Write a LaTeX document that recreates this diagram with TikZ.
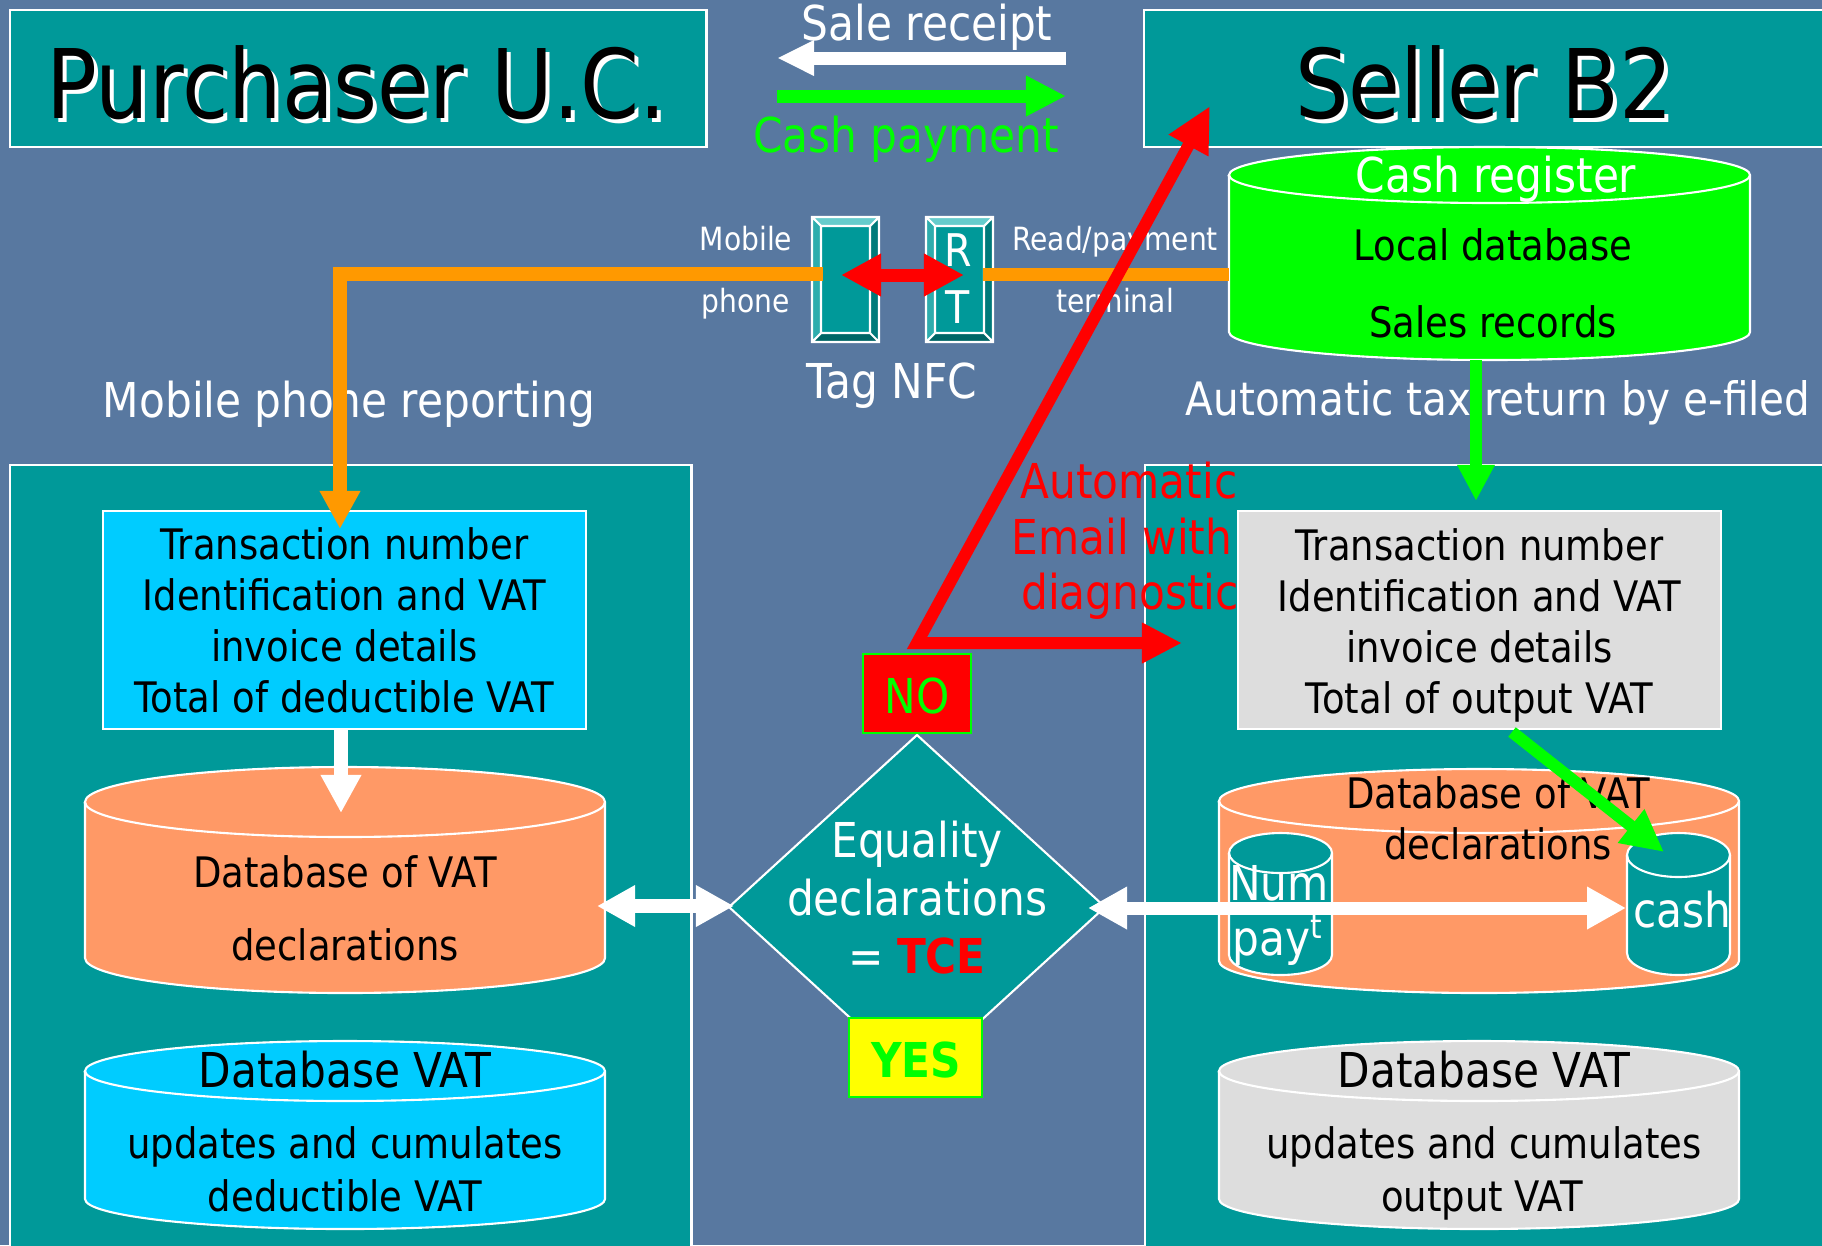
\documentclass[tikz,border=0pt]{standalone}
\usepackage{fontspec}
\setmainfont{DejaVu Sans}[FakeStretch=0.88]
\usetikzlibrary{arrows.meta,calc}
\definecolor{bgc}{RGB}{88,120,160}
\definecolor{tealc}{HTML}{009999}
\definecolor{cyanc}{HTML}{00CCFF}
\definecolor{peach}{HTML}{FF9966}
\definecolor{greyc}{HTML}{DDDDDD}
\definecolor{greenc}{HTML}{00FF00}
\definecolor{orangec}{HTML}{FF9900}
\definecolor{redc}{HTML}{FF0000}
\definecolor{yellowc}{HTML}{FFFF00}
\definecolor{taglight}{HTML}{66CCCC}
\definecolor{tagdark}{HTML}{006666}
\definecolor{tagl}{HTML}{2EADAD}
\definecolor{tagr}{HTML}{007A7A}
\newcommand\FzTitle{\fontsize{27.3}{32}\selectfont}
\newcommand\FzL{\fontsize{13.66}{16.4}\selectfont}
\newcommand\FzM{\fontsize{11.95}{14.5}\selectfont}
\newcommand\FzS{\fontsize{9.1}{11}\selectfont}
\newcommand\FzR{\fontsize{12.8}{15}\selectfont}
\newcommand\FzA{\fontsize{13.1}{16}\selectfont}
% cylinder: x1 ytop x2 ybot ry fill name
\newcommand\cyl[7]{%
  \pgfmathsetmacro\cylrx{(#3-#1)/2*0.01}%
  \pgfmathsetmacro\cylry{#5*0.01}%
  \pgfmathsetmacro\cylw{(#3-#1)*0.01}%
  \pgfmathsetmacro\cylh{(#4-#2)*0.01}%
  \filldraw[fill=#6, draw=white, line width=0.6pt]
    (#1,#2+#5) -- (#1,#4-#5)
    arc[start angle=180, end angle=360, x radius=\cylrx cm, y radius=\cylry cm]
    -- (#3,#2+#5)
    arc[start angle=0, end angle=180, x radius=\cylrx cm, y radius=\cylry cm] -- cycle;
  \draw[white, line width=0.6pt] (#1,#2+#5)
    arc[start angle=180, end angle=360, x radius=\cylrx cm, y radius=\cylry cm];
  \node[inner sep=0, outer sep=0, minimum width=\cylw cm, minimum height=\cylh cm, anchor=north west] (#7) at (#1,#2) {};
}
% bevelled tag: x1 y1 x2 y2 name
\newcommand\tagbox[5]{%
  \fill[tealc] (#1,#2) rectangle (#3,#4);
  \fill[taglight] (#1,#2) -- (#3,#2) -- (#3-9,#2+9) -- (#1+9,#2+9) -- cycle;
  \fill[tagdark] (#1,#4) -- (#3,#4) -- (#3-9,#4-9) -- (#1+9,#4-9) -- cycle;
  \fill[tagl] (#1,#2) -- (#1+9,#2+9) -- (#1+9,#4-9) -- (#1,#4) -- cycle;
  \fill[tagr] (#3,#2) -- (#3-9,#2+9) -- (#3-9,#4-9) -- (#3,#4) -- cycle;
  \draw[white, line width=0.6pt] (#1,#2) rectangle (#3,#4) (#1+9,#2+9) rectangle (#3-9,#4-9)
    (#1,#2) -- (#1+9,#2+9) (#3,#2) -- (#3-9,#2+9) (#1,#4) -- (#1+9,#4-9) (#3,#4) -- (#3-9,#4-9);
  \pgfmathsetmacro\tagw{(#3-#1)*0.01}%
  \pgfmathsetmacro\tagh{(#4-#2)*0.01}%
  \node[inner sep=0, outer sep=0, minimum width=\tagw cm, minimum height=\tagh cm, anchor=north west] (#5) at (#1,#2) {};
}
\begin{document}
\begin{tikzpicture}[x=0.01cm, y=-0.01cm,
  panel/.style={draw=white, line width=0.6pt, fill=tealc, inner sep=0, anchor=north west},
  infobox/.style={draw=white, line width=0.6pt, inner sep=0},
  infotext/.style={inner sep=0, align=center, font=\FzM, text=black},
  lbl/.style={inner sep=0, anchor=base},
  flag/.style={draw=greenc, line width=0.6pt, inner sep=0},
  fat/.style={line width=0.13cm}
]
\useasboundingbox (0,0) rectangle (1822,1245);
\clip (0,0) rectangle (1822,1245);
\fill[bgc] (0,0) rectangle (1822,1245);

% panels and title boxes
\node[panel, minimum width=6.81cm, minimum height=7.96cm] (lpanel) at (9,464) {};
\node[panel, minimum width=6.96cm, minimum height=7.96cm] (rpanel) at (1144,464) {};
\node[panel, minimum width=6.96cm, minimum height=1.37cm] (purch) at (9,9) {};
\node[panel, minimum width=6.97cm, minimum height=1.37cm] (seller) at (1143,9) {};
\node[lbl, font=\FzTitle, text=white] (purchS) at (360,122) {Purchaser U.C.};
\node[lbl, font=\FzTitle, text=black] (purchT) at (356,118) {Purchaser U.C.};
\node[lbl, font=\FzTitle, text=white] (sellerS) at (1488,122) {Seller B2};
\node[lbl, font=\FzTitle, text=black] (sellerT) at (1484,118) {Seller B2};

% sale receipt / cash payment
\node[lbl, font=\FzL, text=white] (saletxt) at (927,40) {Sale receipt};
\node[lbl, font=\FzL, text=greenc] (cashtxt) at (906,152) {Cash payment};
\coordinate (srA) at (1066,58);
\coordinate (srB) at (777,58);
\coordinate (cpA) at (777,96);
\coordinate (cpB) at (1066,96);
\draw[white, fat, -{Triangle[length=0.37cm,width=0.33cm]}] (srA) -- (srB);
\draw[greenc, fat, -{Triangle[length=0.40cm,width=0.38cm]}] (cpA) -- (cpB);

% cash register
\cyl{1229}{147}{1750}{360}{28}{greenc}{cashreg}
\node[lbl, font=\FzL, text=white] (crtxt) at (1496,192) {Cash register};
\node[lbl, font=\FzM, text=black] (ldtxt) at (1493,260) {Local database};
\node[lbl, font=\FzM, text=black] (srtxt) at (1493,337) {Sales records};

% red automatic email text (behind grey box)
\node[lbl, font=\FzL, text=redc] (ae1) at (1129,498) {Automatic};
\node[lbl, font=\FzL, text=redc] (ae2) at (1122,554) {Email with};
\node[lbl, font=\FzL, text=redc] (ae3) at (1130,609) {diagnostic};

% information boxes
\node[infobox, fill=cyanc, minimum width=4.83cm, minimum height=2.18cm] (lbox) at (344.5,620) {};
\node[infotext] (lboxtxt) at (344.5,620)
  {Transaction number\\Identification and VAT\\invoice details\\Total of deductible VAT};
\node[infobox, fill=greyc, minimum width=4.83cm, minimum height=2.18cm] (rbox) at (1479.5,620) {};
\node[infotext] (rboxtxt) at (1479.5,625)
  {Transaction number\\Identification and VAT\\invoice details\\Total of output VAT};

% databases
\cyl{85}{767}{605}{993}{35}{peach}{ldb}
\node[lbl, font=\FzM] (ldb1) at (345,887) {Database of VAT};
\node[lbl, font=\FzM] (ldb2) at (345,960) {declarations};
\cyl{85}{1041}{605}{1229}{30}{cyanc}{lvat}
\node[lbl, font=\FzL] (lvat1) at (345,1087) {Database VAT};
\node[lbl, font=\FzM] (lvat2) at (345,1158) {updates and cumulates};
\node[lbl, font=\FzM] (lvat3) at (345,1211) {deductible VAT};

\cyl{1219}{769}{1739}{993}{32}{peach}{rdb}
\node[lbl, font=\FzM] (rdb1) at (1498,808) {Database of VAT};
\node[lbl, font=\FzM] (rdb2) at (1498,859) {declarations};
\cyl{1229}{833}{1332}{975}{20}{tealc}{numdb}
\cyl{1627}{833}{1730}{975}{22}{tealc}{cashdb}
\node[lbl, font=\FzL, text=white] (num1) at (1279,900) {Num};
\node[lbl, font=\FzL, text=white] (num2) at (1277,955) {pay\raisebox{0.35em}{\fontsize{9.5}{10}\selectfont t}};
\node[lbl, font=\FzL, text=white] (cash1) at (1682,927) {cash};
\cyl{1219}{1041}{1739}{1229}{30}{greyc}{rvat}
\node[lbl, font=\FzL] (rvat1) at (1484,1087) {Database VAT};
\node[lbl, font=\FzM] (rvat2) at (1484,1158) {updates and cumulates};
\node[lbl, font=\FzM] (rvat3) at (1482,1211) {output VAT};

% NFC tags
\tagbox{812}{217}{879}{342}{mtag}
\tagbox{926}{217}{993}{342}{rttag}
\node[lbl, font=\FzR, text=white] (rtR) at (958,266) {R};
\node[lbl, font=\FzR, text=white] (rtT) at (958,323) {T};

% labels
\node[lbl, font=\FzS, text=white] (mob1) at (746,250) {Mobile};
\node[lbl, font=\FzS, text=white] (mob2) at (746,312) {phone};
\node[lbl, font=\FzS, text=white] (rp1) at (1115,250) {Read/payment};
\node[lbl, font=\FzS, text=white] (rp2) at (1115,312) {terminal};
\node[lbl, font=\FzL, text=white] (tagnfc) at (892,398) {Tag NFC};
\node[lbl, font=\FzL, text=white] (mpr) at (349,417) {Mobile phone reporting};
\node[inner sep=0, anchor=base west, font=\FzA, text=white] (atr) at (1185,415) {Automatic tax return by e-filed};

% orange reporting lines
\coordinate (orcorner) at (340,274);
\coordinate (orstart) at (823,274);
\coordinate (orend) at (340,529);
\coordinate (ortA) at (983,274);
\coordinate (ortB) at (1229,274);
\draw[orangec, line width=0.14cm, line join=miter, -{Triangle[length=0.38cm,width=0.38cm]}] (orstart) -- (orcorner) -- (orend);
\draw[orangec, line width=0.13cm] (ortA) -- (ortB);
\coordinate (nfcA) at (841,275);
\coordinate (nfcB) at (964,275);
\draw[redc, fat, {Triangle[length=0.40cm,width=0.40cm]}-{Triangle[length=0.40cm,width=0.40cm]}] (nfcA) -- (nfcB);

% cash register -> right box
\coordinate (gdA) at (1476,360);
\coordinate (gdB) at (1476,501);
\draw[greenc, line width=0.12cm, -{Triangle[length=0.36cm,width=0.35cm]}] (gdA) -- (gdB);

% left box -> left database
\coordinate (wdA) at (341,729);
\coordinate (wdB) at (341,813);
\draw[white, line width=0.14cm, -{Triangle[length=0.38cm,width=0.38cm]}] (wdA) -- (wdB);

% decision diamond
\draw[fill=tealc, draw=white, line width=0.6pt] (917,735) -- (1105,907) -- (917,1079) -- (729,907) -- cycle;
\node[inner sep=0, minimum width=3.76cm, minimum height=3.44cm] (diam) at (917,907) {};
\node[lbl, font=\FzL, text=white] (eq1) at (917,857) {Equality};
\node[lbl, font=\FzL, text=white] (eq2) at (917,915) {declarations};
\node[lbl, font=\FzL, text=white] (eq3) at (917,973) {= \textcolor{redc}{\bfseries TCE}};
\node[flag, fill=redc, minimum width=1.08cm, minimum height=0.79cm] (nobox) at (917,693.5) {};
\node[lbl, font=\FzL, text=greenc] (notxt) at (917,713) {NO};
\node[flag, fill=yellowc, minimum width=1.33cm, minimum height=0.79cm] (yesbox) at (915.5,1057.5) {};
\node[lbl, font=\FzL\bfseries, text=greenc] (yestxt) at (916,1077) {YES};

% white comparison arrows
\coordinate (wlA) at (597,906);
\coordinate (wlB) at (734,906);
\draw[white, line width=0.14cm, {Triangle[length=0.38cm,width=0.39cm]}-{Triangle[length=0.38cm,width=0.39cm]}] (wlA) -- (wlB);
\coordinate (wrA) at (1088,908);
\coordinate (wrB) at (1626,908);
\draw[white, fat, {Triangle[length=0.39cm,width=0.40cm]}-{Triangle[length=0.39cm,width=0.40cm]}] (wrA) -- (wrB);

% green diagonal to cash
\coordinate (gxA) at (1512,732);
\coordinate (gxB) at (1664,852);
\draw[greenc, line width=0.12cm, -{Triangle[length=0.42cm,width=0.40cm]}] (gxA) -- (gxB);

% red automatic email arrows
\coordinate (rdTop) at (1210,106);
\coordinate (rdCorner) at (917,643);
\coordinate (rdRight) at (1182,643);
\draw[redc, line width=0.12cm, line join=miter, {Triangle[length=0.45cm,width=0.42cm]}-{Triangle[length=0.40cm,width=0.38cm]}] (rdTop) -- (rdCorner) -- (rdRight);
\end{tikzpicture}
\end{document}
